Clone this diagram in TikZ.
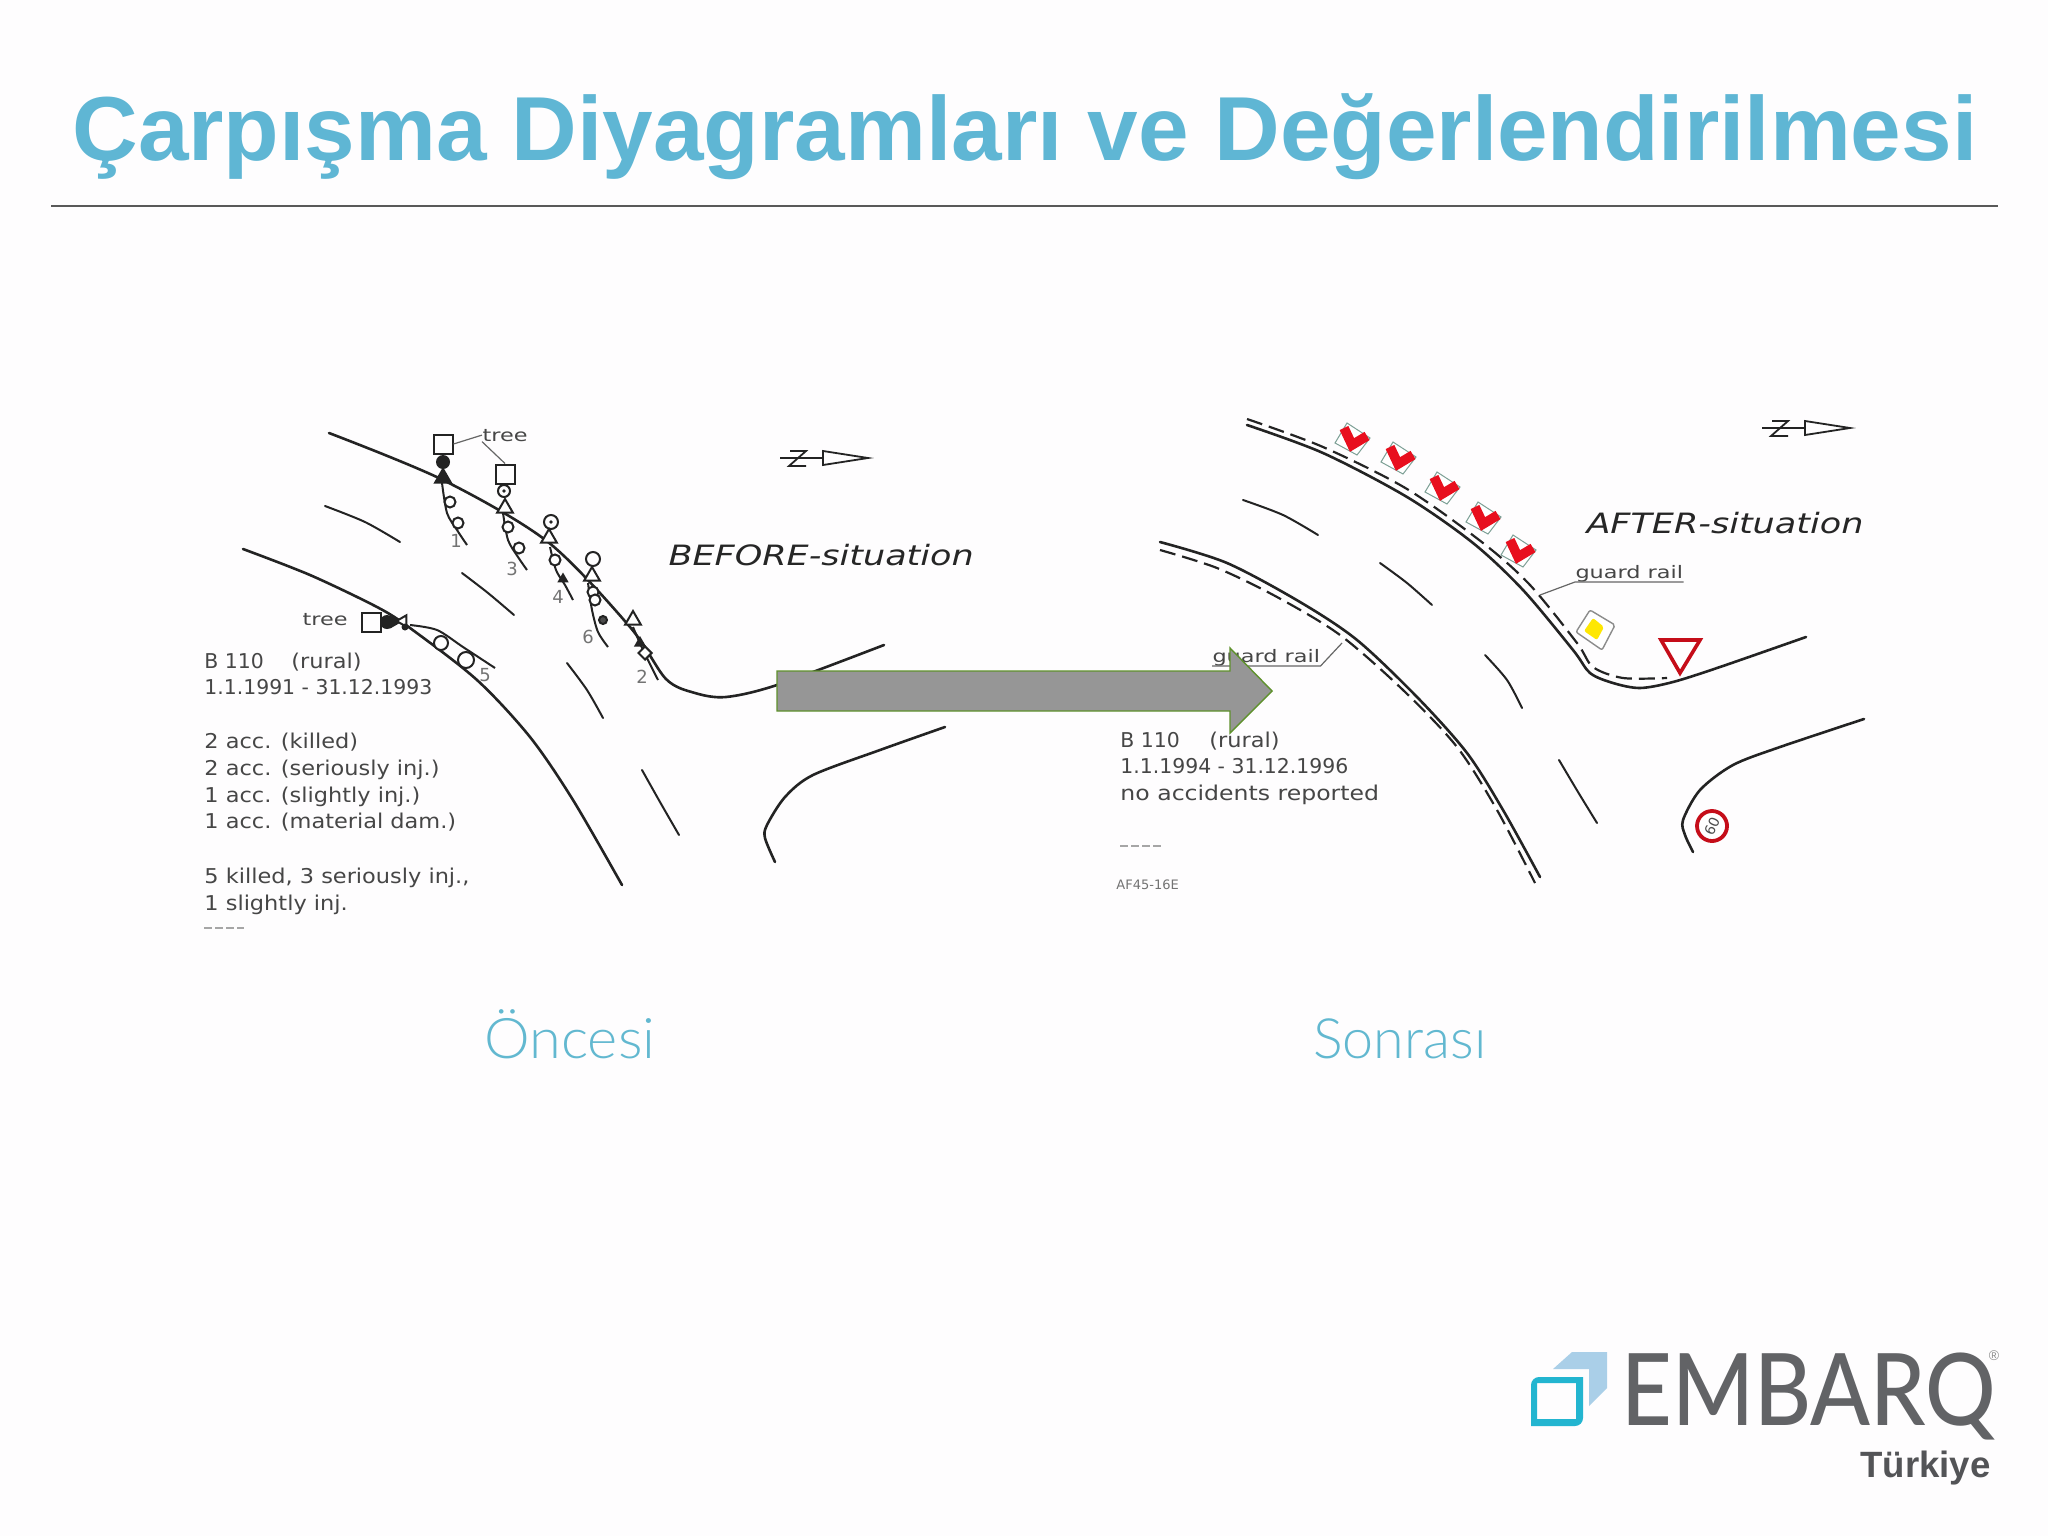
\documentclass[tikz,border=0pt]{standalone}
\usepackage{fontspec}
\usetikzlibrary{shapes.geometric, arrows.meta, positioning, calc}
\setmainfont{Liberation Sans}
\newfontfamily\sketchfont{DejaVu Sans}
\newfontfamily\captionfont{Lato Light}
\newfontfamily\logofont{Lato Medium}
\definecolor{titleblue}{RGB}{95, 182, 212}
\definecolor{captionblue}{RGB}{98, 184, 208}
\definecolor{inkgray}{RGB}{70, 70, 70}
\definecolor{roadink}{RGB}{35, 35, 35}
\definecolor{arrowgray}{RGB}{150, 150, 150}
\definecolor{arrowgreen}{RGB}{95, 145, 45}
\definecolor{signred}{RGB}{232, 15, 30}
\definecolor{signgreen}{RGB}{125, 160, 150}
\definecolor{logogray}{RGB}{98, 99, 102}
\definecolor{logoteal}{RGB}{35, 181, 208}
\definecolor{logolight}{RGB}{170, 207, 232}
\definecolor{paper}{RGB}{254, 253, 254}

\begin{document}
\begin{tikzpicture}[x=0.5pt, y=-0.5pt,
    road/.style={draw=roadink, line width=1.3pt, line cap=round},
    railing/.style={draw=roadink, line width=1.1pt, dash pattern=on 8pt off 3.5pt},
    track/.style={draw=roadink, line width=1pt},
    sketchtxt/.style={anchor=base west, inner sep=0pt, inkgray, font=\sketchfont\fontsize{10.2}{12}\selectfont},
    sketchwide/.style={sketchtxt, xscale=1.1, transform shape},
    smalltxt/.style={anchor=base west, inner sep=0pt, inkgray, xscale=1.3, transform shape, font=\sketchfont\fontsize{8.6}{10}\selectfont},
    numtxt/.style={anchor=base west, inner sep=0pt, black!55, font=\sketchfont\fontsize{9}{10}\selectfont},
    headtxt/.style={anchor=base west, inner sep=0pt, black!85, xscale=1.25, transform shape, font=\sketchfont\itshape\fontsize{14}{16}\selectfont},
    treebox/.style={draw=roadink, line width=1pt, minimum size=9.5pt, inner sep=0pt},
    acccirc/.style={circle, draw=roadink, line width=1pt, inner sep=0pt, minimum size=5.5pt},
    acctri/.style={regular polygon, regular polygon sides=3, draw=roadink, line width=1pt, inner sep=0pt, minimum size=9pt},
    leader/.style={draw=black!60, line width=0.6pt},
    bigarrow/.style={fill=arrowgray, draw=arrowgreen, line width=0.7pt, line join=miter}]
  % ===== zemin =====
  \fill[paper] (0,0) rectangle (2048,1536);
  \useasboundingbox (0,0) rectangle (2048,1536);

  % ===== baslik =====
  \node[anchor=base west, inner sep=0pt, titleblue, font=\bfseries\fontsize{45.46}{50}\selectfont] (title) at (72,160) {Çarpışma Diyagramları ve Değerlendirilmesi};
  \coordinate (ruleL) at (51,206);
  \coordinate (ruleR) at (1998,206);
  \draw[black!65, line width=0.7pt] (ruleL) -- (ruleR);

  % ===== sol kroki: yollar =====
  \draw[road] plot[smooth] coordinates {(329,433) (443,480) (548,542) (630,627) (666,679) (695,693) (726,697) (777,685) (884,645)};
  \draw[road] plot[smooth] coordinates {(243,549) (310,575) (377,607) (410,628) (477,680) (530,737) (573,800) (622,885)};
  \draw[road] plot[smooth] coordinates {(945,727) (880,750) (813,775) (785,797) (767,825) (765,838) (775,862)};
  \foreach \xa/\ya/\xb/\yb/\xc/\yc in {325/506/365/522/400/542, 462/573/488/593/514/615, 567/663/587/690/603/718, 642/770/660/802/679/835} {
    \draw[road, line width=1pt] plot[smooth] coordinates {(\xa,\ya) (\xb,\yb) (\xc,\yc)};
  }

  % ===== sol kroki: agaclar ve kazalar =====
  \node[treebox] (treeA) at (443,444) {};
  \node[treebox] (treeB) at (505,474) {};
  \node[treebox] (treeC) at (371,622) {};
  \node[smalltxt] (treeT) at (482,441) {tree};
  \node[smalltxt] (treeL) at (302,625) {tree};
  \draw[leader] (treeA.east) -- (treeT.west);
  \draw[leader] (treeT.south west) -- (treeB.north);

  % 1
  \draw[track] plot[smooth] coordinates {(442,483) (447,513) (457,530) (467,545)};
  \node[circle, fill=roadink, inner sep=0pt, minimum size=7pt] (k1a) at (443,462) {};
  \node[acctri, fill=roadink] (k1b) at (443,478) {};
  \foreach \cx/\cy [count=\i] in {450/502, 458/523} {
    \node[acccirc, fill=white] (k1c\i) at (\cx,\cy) {};
  }
  % 3
  \draw[track] plot[smooth] coordinates {(503,513) (508,540) (518,557) (527,570)};
  \node[acccirc, minimum size=6pt] (k3a) at (504,491) {};
  \node[circle, fill=roadink, inner sep=0pt, minimum size=1.8pt] (k3d) at (504,491) {};
  \node[acctri, fill=white] (k3b) at (505,508) {};
  \foreach \cx/\cy [count=\i] in {508/527, 519/548} {
    \node[acccirc, fill=white] (k3c\i) at (\cx,\cy) {};
  }
  % 4
  \draw[track] plot[smooth] coordinates {(550,547) (556,570) (565,585) (573,600)};
  \node[acccirc, minimum size=7pt] (k4a) at (551,522) {};
  \node[circle, fill=roadink, inner sep=0pt, minimum size=1.8pt] (k4d) at (551,522) {};
  \node[acctri, fill=white] (k4b) at (549,538) {};
  \node[acccirc, fill=white] (k4c) at (555,560) {};
  \node[acctri, fill=roadink, minimum size=4.5pt] (k4e) at (563,579) {};
  % 6
  \draw[track] plot[smooth] coordinates {(588,583) (592,610) (598,632) (608,647)};
  \node[acccirc, minimum size=7pt] (k6a) at (593,559) {};
  \node[acctri, fill=white] (k6b) at (592,576) {};
  \node[acccirc, fill=white] (k6c) at (593,592) {};
  \node[acccirc, fill=white] (k6d) at (595,600) {};
  \node[acccirc, fill=black!70, minimum size=4pt] (k6e) at (603,620) {};
  % 2
  \draw[track] plot[smooth] coordinates {(633,627) (643,650) (658,680)};
  \node[acctri, fill=white] (k2a) at (633,620) {};
  \node[acctri, fill=roadink, minimum size=5pt] (k2b) at (640,643) {};
  \node[diamond, draw=roadink, fill=white, line width=1pt, inner sep=0pt, minimum size=7pt] (k2c) at (645,653) {};
  % 5
  \draw[track] plot[smooth] coordinates {(410,625) (437,630) (463,647) (495,668)};
  \node[circle, fill=roadink, inner sep=0pt, minimum size=7pt] (k5a) at (387,622) {};
  \node[acctri, fill=roadink, minimum size=5.5pt, shape border rotate=-90] (k5b) at (394,622) {};
  \node[acctri, fill=white, minimum size=6.5pt, shape border rotate=90] (k5c) at (403,621) {};
  \node[circle, fill=roadink, inner sep=0pt, minimum size=3.5pt] (k5d) at (405,627) {};
  \node[acccirc, fill=white, minimum size=7pt] (k5e) at (441,643) {};
  \node[acccirc, fill=white, minimum size=8pt] (k5f) at (466,660) {};
  % kaza numaralari
  \foreach \cx/\cy/\lbl in {450/547/1, 506/575/3, 552/603/4, 582/643/6, 636/683/2, 479/681/5} {
    \node[numtxt] (no\lbl) at (\cx,\cy) {\lbl};
  }

  % ===== sol kroki: metin =====
  \node[sketchtxt] (bA) at (204,668) {B 110};
  \node[sketchwide] (bB) at (291,668) {(rural)};
  \node[sketchtxt] (bC) at (204,694) {1.1.1991 - 31.12.1993};
  \foreach \yy/\txt [count=\i] in {748/{2 acc. (killed)}, 775/{2 acc. (seriously inj.)}, 802/{1 acc. (slightly inj.)}, 828/{1 acc. (material dam.)}, 883/{5 killed, 3 seriously inj.,}, 910/{1 slightly inj.}} {
    \node[sketchwide] (bt\i) at (204,\yy) {\txt};
  }
  \draw[black!35, line width=0.7pt, dash pattern=on 4pt off 1.5pt] (204,928) -- (244,928);
  \node[headtxt] (before) at (668,565) {BEFORE-situation};

  % ===== sag kroki: yollar ve korkuluk =====
  \draw[road] plot[smooth] coordinates {(1247,425) (1323,453) (1407,497) (1473,543) (1523,590) (1573,650) (1590,673) (1613,683) (1640,688) (1673,682) (1720,667) (1806,637)};
  \draw[railing] plot[smooth] coordinates {(1247,419) (1323,447) (1407,489) (1483,543) (1530,585) (1577,643) (1593,667) (1623,678) (1667,678)};
  \draw[road] plot[smooth] coordinates {(1160,542) (1227,563) (1300,602) (1357,640) (1417,697) (1467,753) (1503,810) (1540,877)};
  \draw[railing] plot[smooth] coordinates {(1160,550) (1217,568) (1277,597) (1340,635) (1403,690) (1457,747) (1497,810) (1535,883)};
  \draw[road] plot[smooth] coordinates {(1864,719) (1780,747) (1733,765) (1700,790) (1683,820) (1685,835) (1693,852)};
  \foreach \xa/\ya/\xb/\yb/\xc/\yc in {1243/500/1283/515/1318/535, 1380/563/1407/583/1432/605, 1485/655/1507/680/1522/708, 1559/760/1578/792/1597/823} {
    \draw[road, line width=1pt] plot[smooth] coordinates {(\xa,\ya) (\xb,\yb) (\xc,\yc)};
  }

  % ===== sag kroki: levhalar =====
  \foreach \cx/\cy in {1352/438, 1398/457, 1442/487, 1483/517, 1518/550} {
    \begin{scope}[shift={(\cx,\cy)}]
      \fill[white] (-5,-15) -- (18,0) -- (5,17) -- (-17,5) -- cycle;
      \draw[signgreen, line width=0.5pt] (-5,-15) -- (18,0) -- (5,17) -- (-17,5) -- cycle;
      \draw[signred, line width=4.8pt, line join=miter] (-8,-10) -- (0,7) -- (15,-2);
    \end{scope}
  }
  \draw[black!45, fill=white, line width=0.7pt, rounded corners=1pt] (1590,610) -- (1615,625) -- (1602,650) -- (1576,632) -- cycle;
  \fill[yellow!90!orange, rounded corners=1pt] (1593,618) -- (1604,627) -- (1597,640) -- (1584,631) -- cycle;
  \draw[signred!85!black, fill=white, line width=1.8pt, line join=miter] (1661,640) -- (1700,640) -- (1680,673) -- cycle;
  \node[circle, draw=signred!85!black, fill=white, line width=1.9pt, inner sep=0pt, minimum size=15pt, rotate=65, text=black!70, font=\sketchfont\fontsize{7}{8}\selectfont] (speed) at (1712,826) {60};

  % ===== sag kroki: metin =====
  \node[headtxt] (after) at (1586,533) {AFTER-situation};
  \node[smalltxt] (railA) at (1575,578) {guard rail};
  \node[smalltxt] (railB) at (1212,662) {guard rail};
  \coordinate (railAend) at (1540,595);
  \coordinate (railBend) at (1342,643);
  \draw[leader] (railA.south east) -- (railA.south west) -- (railAend);
  \draw[leader] (railB.south west) -- (railB.south east) -- (railBend);
  \node[sketchtxt] (aA) at (1120,747) {B 110};
  \node[sketchwide] (aB) at (1209,747) {(rural)};
  \node[sketchtxt] (aC) at (1120,773) {1.1.1994 - 31.12.1996};
  \node[sketchwide, xscale=1.05] (aD) at (1120,800) {no accidents reported};
  \draw[black!35, line width=0.7pt, dash pattern=on 4pt off 1.5pt] (1120,846) -- (1161,846);
  \node[anchor=base west, inner sep=0pt, black!55, font=\sketchfont\fontsize{6.5}{8}\selectfont] (aE) at (1116,889) {AF45-16E};

  % ===== kuzey oklari =====
  \foreach \nx/\ny in {780/458, 1762/428} {
    \begin{scope}[shift={(\nx,\ny)}]
      \draw[roadink, line width=0.9pt] (0,0) -- (43,0);
      \draw[roadink, line width=0.9pt] (10,-7) -- (26,-7) -- (9,8) -- (26,8);
      \draw[roadink, line width=0.9pt] (43,-7) -- (43,7) -- (88,0) -- cycle;
    \end{scope}
  }

  % ===== buyuk ok =====
  \draw[bigarrow] (777,671) -- (1230,671) -- (1230,648) -- (1272,691) -- (1230,733) -- (1230,711) -- (777,711) -- cycle;

  % ===== alt yazilar =====
  \node[anchor=base west, captionblue, inner sep=0pt, xscale=1.03, transform shape, font=\captionfont\fontsize{28}{32}\selectfont] (oncesi) at (484,1058) {Öncesi};
  \node[anchor=base west, captionblue, inner sep=0pt, font=\captionfont\fontsize{27.8}{32}\selectfont] (sonrasi) at (1313,1058) {Sonrası};

  % ===== logo =====
  \fill[logolight] (1553,1369) -- (1572,1352) -- (1607,1352) -- (1607,1388) -- (1589,1406) -- (1589,1369) -- cycle;
  \fill[logoteal, even odd rule] (1531,1385) arc (180:270:8) -- (1583,1377) -- (1583,1418) arc (0:90:8) -- (1531,1426) -- cycle
    (1537,1383) rectangle (1576,1419);
  \node[anchor=base west, inner sep=0pt, logogray, xscale=0.88, transform shape, font=\logofont\fontsize{50}{54}\selectfont] (embarq) at (1621,1425) {EMBARQ};
  \node[anchor=center, inner sep=0pt, black!45, font=\fontsize{7}{8}\selectfont] (regmark) at (1994,1356) {®};
  \node[anchor=base west, inner sep=0pt, logogray!85!black, font=\bfseries\fontsize{18.3}{20}\selectfont] (turkiye) at (1860,1477) {Türkiye};
\end{tikzpicture}
\end{document}
